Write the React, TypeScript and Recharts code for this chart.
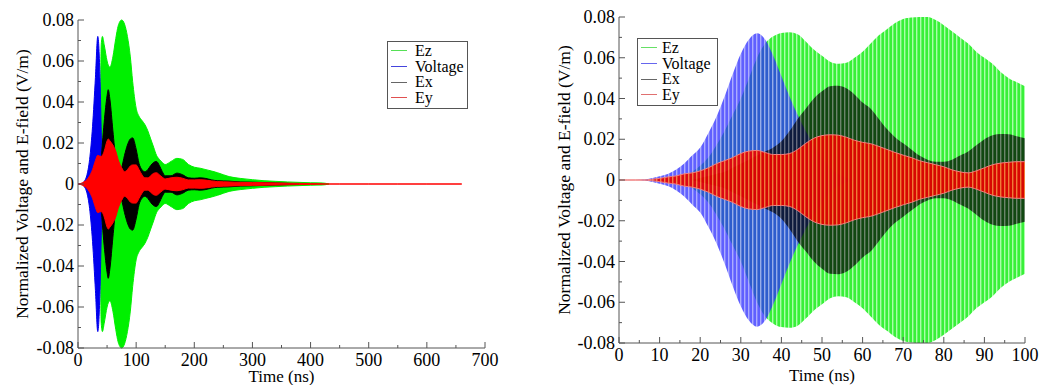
import React from "react"
import { ComposedChart, Area, XAxis, YAxis, Legend } from "recharts"

// ---- left panel: full decay, envelope amplitude ----
const leftTimes = [0, 5, 10, 15, 20, 25, 30, 34, 38, 40, 42, 45, 50, 52, 55, 60, 65, 69, 75, 80, 85, 90, 94, 100, 105, 110, 115, 120, 125, 130, 135, 140, 145, 150, 160, 170, 180, 190, 200, 210, 220, 230, 240, 260, 280, 300, 320, 340, 360, 380, 400, 420, 432, 450, 500, 550, 600, 660]
const leftEz = [null, null, null, null, null, null, null, null, 0, 0.068, 0.072, 0.068, 0.06, 0.058, 0.057, 0.062, 0.071, 0.077, 0.08, 0.078, 0.072, 0.062, 0.05, 0.037, 0.033, 0.031, 0.029, 0.026, 0.022, 0.018, 0.014, 0.012, 0.0105, 0.0095, 0.011, 0.0125, 0.012, 0.0095, 0.0082, 0.0077, 0.007, 0.0063, 0.0055, 0.0036, 0.0027, 0.0021, 0.0016, 0.0013, 0.001, 0.0008, 0.0006, 0.0005, 0, null, null, null, null, null]
const leftVoltage = [0, 0, 0.001, 0.004, 0.012, 0.028, 0.052, 0.072, 0.05, 0.025, 0.004, 0, null, null, null, null, null, null, null, null, null, null, null, null, null, null, null, null, null, null, null, null, null, null, null, null, null, null, null, null, null, null, null, null, null, null, null, null, null, null, null, null, null, null, null, null, null, null]
const leftEx = [null, null, null, null, null, null, null, null, 0, 0.012, 0.02, 0.03, 0.043, 0.046, 0.041, 0.026, 0.012, 0.006, 0.008, 0.014, 0.019, 0.022, 0.0225, 0.017, 0.01, 0.007, 0.006, 0.007, 0.009, 0.0105, 0.011, 0.009, 0.006, 0.004, 0.004, 0.0053, 0.0045, 0.003, 0.0028, 0.003, 0.0027, 0.002, 0.0016, 0.0014, 0.001, 0.0009, 0.0007, 0.0005, 0.0003, 0, null, null, null, null, null, null, null, null]
const leftEy = [0, 0.0003, 0.001, 0.002, 0.004, 0.007, 0.0115, 0.014, 0.0135, 0.0135, 0.014, 0.016, 0.021, 0.022, 0.021, 0.019, 0.016, 0.012, 0.008, 0.006, 0.007, 0.0088, 0.0093, 0.0093, 0.007, 0.0045, 0.003, 0.003, 0.004, 0.0052, 0.0055, 0.0045, 0.0033, 0.0025, 0.003, 0.0033, 0.0028, 0.002, 0.002, 0.0021, 0.0019, 0.0015, 0.0012, 0.001, 0.0008, 0.0007, 0.0006, 0.0005, 0.0004, 0.0003, 0.0002, 0.0001, 0, 0, 0, 0, 0, 0]

// ---- right panel: first 100 ns ----
const rightTimes = [0, 2, 4, 6, 8, 10, 12, 14, 16, 18, 20, 22, 24, 26, 28, 30, 32, 34, 36, 38, 40, 42, 44, 46, 48, 50, 52, 54, 56, 58, 60, 62, 64, 66, 68, 70, 72, 74, 76, 78, 80, 82, 84, 86, 88, 90, 92, 94, 96, 98, 100]
const rightEz = [null, null, null, null, null, 0, 0.0005, 0.001, 0.002, 0.004, 0.007, 0.011, 0.017, 0.024, 0.032, 0.04, 0.05, 0.06, 0.067, 0.0705, 0.0722, 0.0725, 0.0715, 0.068, 0.064, 0.061, 0.058, 0.057, 0.0575, 0.06, 0.063, 0.067, 0.071, 0.074, 0.077, 0.079, 0.0797, 0.08, 0.08, 0.0785, 0.076, 0.073, 0.07, 0.067, 0.063, 0.06, 0.057, 0.053, 0.05, 0.048, 0.046]
const rightVoltage = [0, 0, 0, 0.0002, 0.0008, 0.0018, 0.003, 0.005, 0.008, 0.012, 0.016, 0.023, 0.031, 0.041, 0.052, 0.062, 0.069, 0.072, 0.069, 0.061, 0.051, 0.041, 0.032, 0.024, 0.017, 0.011, 0.006, 0.003, 0.001, 0, null, null, null, null, null, null, null, null, null, null, null, null, null, null, null, null, null, null, null, null, null]
const rightEx = [null, null, null, null, null, null, null, null, null, 0, 0.001, 0.002, 0.003, 0.004, 0.006, 0.008, 0.01, 0.012, 0.014, 0.016, 0.019, 0.024, 0.03, 0.035, 0.04, 0.0435, 0.046, 0.0462, 0.045, 0.042, 0.038, 0.035, 0.03, 0.025, 0.021, 0.018, 0.015, 0.012, 0.01, 0.009, 0.009, 0.01, 0.012, 0.014, 0.017, 0.02, 0.022, 0.0226, 0.0225, 0.0215, 0.0205]
const rightEy = [0, 0, 0, 0, 0.0003, 0.0008, 0.0015, 0.002, 0.003, 0.0035, 0.0045, 0.006, 0.008, 0.0095, 0.011, 0.013, 0.0142, 0.0145, 0.0135, 0.0125, 0.0125, 0.013, 0.015, 0.018, 0.0205, 0.0218, 0.0222, 0.022, 0.021, 0.0195, 0.0185, 0.0178, 0.0165, 0.015, 0.0135, 0.0122, 0.011, 0.0095, 0.0085, 0.0075, 0.0065, 0.005, 0.004, 0.0035, 0.0045, 0.006, 0.0075, 0.0083, 0.0087, 0.009, 0.009]

// axis ticks (majors get labels, minors are just marks)
const leftXTicks = [0, 50, 100, 150, 200, 250, 300, 350, 400, 450, 500, 550, 600, 650, 700]
const rightXTicks = [0, 5, 10, 15, 20, 25, 30, 35, 40, 45, 50, 55, 60, 65, 70, 75, 80, 85, 90, 95, 100]
const yTicks = [-0.08, -0.07, -0.06, -0.05, -0.04, -0.03, -0.02, -0.01, 0, 0.01, 0.02, 0.03, 0.04, 0.05, 0.06, 0.07, 0.08]

const seriesNames = ["Ez", "Voltage", "Ex", "Ey"]

const FONT = "'Times New Roman', 'Liberation Serif', Tinos, 'DejaVu Serif', 'Noto Serif', 'Nimbus Roman', FreeSerif, serif"
const FRAME = "#555"

const band = (a: number | null) => (a == null ? null : [-a, a])

const leftRows = leftTimes.map((t, i) => ({
    t,
    ez: band(leftEz[i]),
    voltage: band(leftVoltage[i]),
    ex: band(leftEx[i]),
    ey: band(leftEy[i]),
}))

const rightRows = rightTimes.map((t, i) => ({
    t,
    ez: band(rightEz[i]),
    voltage: band(rightVoltage[i]),
    ex: band(rightEx[i]),
    ey: band(rightEy[i]),
}))

const leftStyle = [
    { key: "ez", fill: "#00f000", legend: "#55e055" },
    { key: "voltage", fill: "#0000ee", legend: "#4444dd" },
    { key: "ex", fill: "#000000", legend: "#666666" },
    { key: "ey", fill: "#ff0000", legend: "#e05050" },
]

const rightStyle = [
    { key: "ez", base: "#22ee22", light: "#a0ffa0", opacity: 0.9, legend: "#66e066" },
    { key: "voltage", base: "#2b2bff", light: "#9090ff", opacity: 0.75, legend: "#6666ee" },
    { key: "ex", base: "#000000", light: "#505050", opacity: 0.7, legend: "#666666" },
    { key: "ey", base: "#ee0000", light: "#ff7a30", opacity: 0.9, legend: "#e07070" },
]

const fmtY = (v: number) => (Math.abs(v) < 1e-9 ? "0" : v.toFixed(2))

const tickText = { fontFamily: FONT, fontSize: 18, fill: "#000" }

// inward tick marks on all four sides, like the original xmgrace frame
const frameTick = (side: string, isMajor: (v: number) => boolean, format?: (v: number) => string) =>
    // eslint-disable-next-line
    (props: any) => {
        const { x, y, payload } = props
        const v = payload.value as number
        const major = isMajor(v)
        const len = major ? 6 : 3
        let line = { x1: x, y1: y, x2: x, y2: y }
        if (side === "bottom") line = { x1: x, y1: y, x2: x, y2: y - len }
        if (side === "top") line = { x1: x, y1: y, x2: x, y2: y + len }
        if (side === "left") line = { x1: x, y1: y, x2: x + len, y2: y }
        if (side === "right") line = { x1: x, y1: y, x2: x - len, y2: y }
        return (
            <g>
                <line {...line} stroke={FRAME} strokeWidth={1} />
                {major && format && side === "bottom" && (
                    <text x={x} y={y + 18} textAnchor="middle" style={tickText}>
                        {format(v)}
                    </text>
                )}
                {major && format && side === "left" && (
                    <text x={x - 4} y={y + 6} textAnchor="end" style={tickText}>
                        {format(v)}
                    </text>
                )}
            </g>
        )
    }

const yMajor = (v: number) => Math.round(v * 100) % 2 === 0

const LegendBox = ({ colors, lineGap }: { colors: string[]; lineGap: number }) => (
    <div
        style={{
            width: 81,
            height: 68,
            boxSizing: "border-box",
            border: `1px solid ${FRAME}`,
            background: "#fff",
            paddingTop: 1,
            fontFamily: FONT,
            fontSize: 16,
            lineHeight: "15.7px",
            color: "#000",
        }}
    >
        {seriesNames.map((name, i) => (
            <div key={name} style={{ display: "flex", alignItems: "center", paddingLeft: 3 }}>
                <span style={{ display: "inline-block", width: 16, borderTop: `1.5px solid ${colors[i]}`, marginRight: lineGap }} />
                <span>{name}</span>
            </div>
        ))}
    </div>
)

const axisLabelStyle = { fontSize: 17.5, fontFamily: FONT, fill: "#000" }

const LeftPanel = () => (
    <ComposedChart width={520} height={385} data={leftRows} margin={{ top: 20, right: 35, bottom: 0, left: 17 }}>
        <XAxis
            xAxisId="b"
            dataKey="t"
            type="number"
            domain={[0, 700]}
            ticks={leftXTicks}
            interval={0}
            tickSize={0}
            tickMargin={0}
            tickLine={false}
            axisLine={{ stroke: FRAME }}
            height={37}
            tick={frameTick("bottom", (v) => v % 100 === 0, (v) => String(v))}
            label={{ value: "Time (ns)", position: "insideBottom", offset: 3, style: { ...axisLabelStyle, fontSize: 17 } }}
        />
        <XAxis
            xAxisId="t"
            orientation="top"
            dataKey="t"
            type="number"
            domain={[0, 700]}
            ticks={leftXTicks}
            interval={0}
            tickSize={0}
            tickMargin={0}
            tickLine={false}
            axisLine={{ stroke: FRAME }}
            height={0}
            tick={frameTick("top", (v) => v % 100 === 0)}
        />
        <YAxis
            yAxisId="l"
            type="number"
            domain={[-0.08, 0.08]}
            ticks={yTicks}
            interval={0}
            tickSize={0}
            tickMargin={0}
            tickLine={false}
            axisLine={{ stroke: FRAME }}
            width={61}
            tick={frameTick("left", yMajor, fmtY)}
            label={{ value: "Normalized Voltage and E-field (V/m)", angle: -90, position: "insideLeft", offset: 5, style: { ...axisLabelStyle, textAnchor: "middle" } }}
        />
        <YAxis
            yAxisId="r"
            orientation="right"
            type="number"
            domain={[-0.08, 0.08]}
            ticks={yTicks}
            interval={0}
            tickSize={0}
            tickMargin={0}
            tickLine={false}
            axisLine={{ stroke: FRAME }}
            width={0}
            tick={frameTick("right", yMajor)}
        />
        {leftStyle.map((s) => (
            <Area
                key={s.key}
                xAxisId="b"
                yAxisId="l"
                type="monotone"
                dataKey={s.key}
                stroke={s.fill}
                strokeWidth={1}
                fill={s.fill}
                fillOpacity={1}
                isAnimationActive={false}
                dot={false}
                activeDot={false}
            />
        ))}
        <Legend
            layout="vertical"
            align="center"
            verticalAlign="middle"
            wrapperStyle={{ left: 387, top: 41, width: 81, bottom: "auto", right: "auto" }}
            content={() => <LegendBox colors={leftStyle.map((s) => s.legend)} lineGap={8} />}
        />
    </ComposedChart>
)

const RightPanel = () => (
    <ComposedChart width={523} height={385} data={rightRows} margin={{ top: 17, right: 18, bottom: 0, left: 39 }}>
        <defs>
            {rightStyle.map((s) => (
                <pattern key={s.key} id={`osc-${s.key}`} width={4} height={8} patternUnits="userSpaceOnUse">
                    <rect width={4} height={8} fill={s.base} />
                    <rect width={1.4} height={8} fill={s.light} />
                </pattern>
            ))}
        </defs>
        <XAxis
            xAxisId="b"
            dataKey="t"
            type="number"
            domain={[0, 100]}
            ticks={rightXTicks}
            interval={0}
            tickSize={0}
            tickMargin={0}
            tickLine={false}
            axisLine={{ stroke: FRAME }}
            height={42}
            tick={frameTick("bottom", (v) => v % 10 === 0, (v) => String(v))}
            label={{ value: "Time (ns)", position: "insideBottom", offset: 4, style: { ...axisLabelStyle, fontSize: 17 } }}
        />
        <XAxis
            xAxisId="t"
            orientation="top"
            dataKey="t"
            type="number"
            domain={[0, 100]}
            ticks={rightXTicks}
            interval={0}
            tickSize={0}
            tickMargin={0}
            tickLine={false}
            axisLine={{ stroke: FRAME }}
            height={0}
            tick={frameTick("top", (v) => v % 10 === 0)}
        />
        <YAxis
            yAxisId="l"
            type="number"
            domain={[-0.08, 0.08]}
            ticks={yTicks}
            interval={0}
            tickSize={0}
            tickMargin={0}
            tickLine={false}
            axisLine={{ stroke: FRAME }}
            width={60}
            tick={frameTick("left", yMajor, fmtY)}
            label={{ value: "Normalized Voltage and E-field (V/m)", angle: -90, position: "insideLeft", offset: 5, style: { ...axisLabelStyle, textAnchor: "middle" } }}
        />
        <YAxis
            yAxisId="r"
            orientation="right"
            type="number"
            domain={[-0.08, 0.08]}
            ticks={yTicks}
            interval={0}
            tickSize={0}
            tickMargin={0}
            tickLine={false}
            axisLine={{ stroke: FRAME }}
            width={0}
            tick={frameTick("right", yMajor)}
        />
        {rightStyle.map((s) => (
            <Area
                key={s.key}
                xAxisId="b"
                yAxisId="l"
                type="monotone"
                dataKey={s.key}
                stroke={s.key === "ey" ? "#f08080" : "none"}
                strokeWidth={1}
                fill={`url(#osc-${s.key})`}
                fillOpacity={s.opacity}
                isAnimationActive={false}
                dot={false}
                activeDot={false}
            />
        ))}
        <Legend
            layout="vertical"
            align="center"
            verticalAlign="middle"
            wrapperStyle={{ left: 117, top: 38, width: 81, bottom: "auto", right: "auto" }}
            content={() => <LegendBox colors={rightStyle.map((s) => s.legend)} lineGap={5} />}
        />
    </ComposedChart>
)

export default function App() {
    return (
        <div style={{ position: "absolute", left: 0, top: 0, width: 1043, height: 385, background: "#fff" }}>
            <div style={{ position: "absolute", left: 0, top: 0 }}>
                <LeftPanel />
            </div>
            <div style={{ position: "absolute", left: 520, top: 0 }}>
                <RightPanel />
            </div>
        </div>
    )
}
